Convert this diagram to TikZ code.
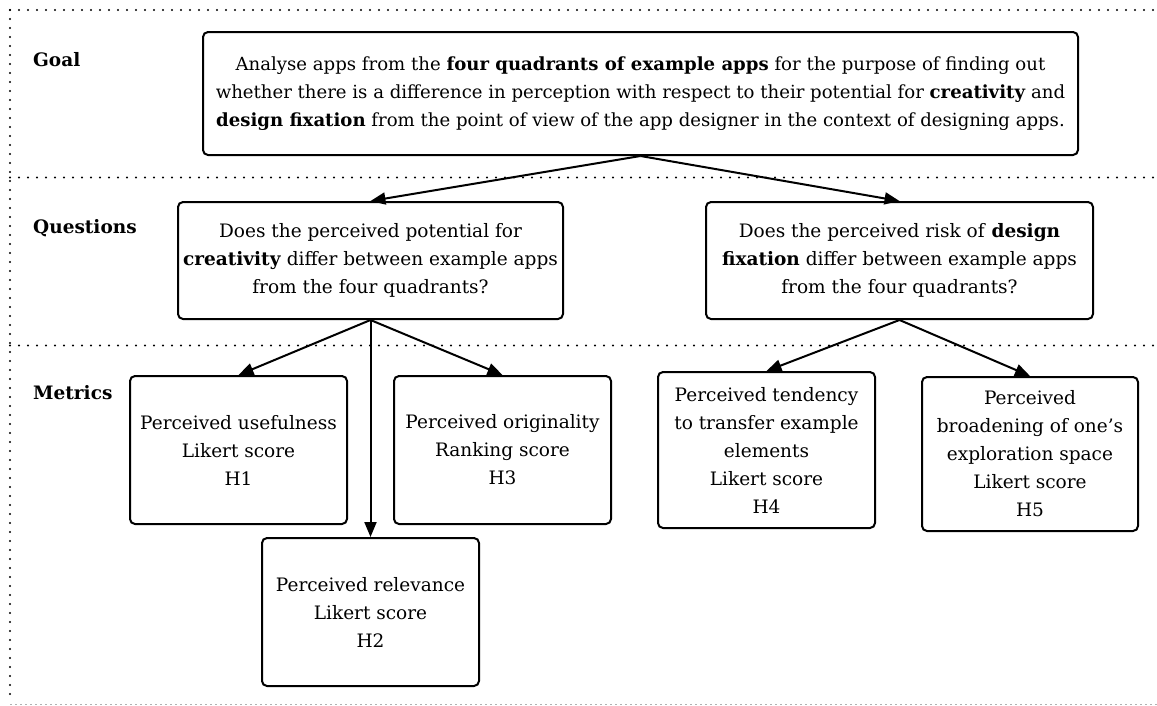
\documentclass[tikz,border=0pt]{standalone}
\usepackage{fontspec}
\setmainfont{DejaVu Serif}
\usetikzlibrary{arrows.meta}
\begin{document}
\begin{tikzpicture}[x=1pt,y=-1pt,
  box/.style={draw,line width=2pt,rounded corners=5pt,align=center,inner sep=0pt,
    font=\fontsize{18.5}{28}\selectfont},
  lbl/.style={anchor=west,inner sep=0pt,font=\fontsize{18.5}{28}\selectfont\bfseries},
  sep/.style={line width=2.2pt,line cap=round,dash pattern=on 0pt off 9pt},
  arr/.style={line width=2pt,-{Triangle[length=15pt,width=12pt]}}]
\useasboundingbox (0,0) rectangle (1157,705);
% section separators
\draw[sep] (10,10) -- (1157,10);
\draw[sep] (10,10) -- (10,700);
\draw[sep] (10,177.5) -- (1157,177.5);
\draw[sep] (10,345.5) -- (1157,345.5);
\draw[gray!60,line width=0.9pt,dash pattern=on 2pt off 3pt] (10,704) -- (1157,704);
% labels
\node[lbl] (lgoal) at (33,60) {Goal};
\node[lbl] (lq) at (33,228) {Questions};
\node[lbl] (lm) at (33,393) {Metrics};
% boxes
\node[box,minimum width=875pt,minimum height=123pt,font=\fontsize{18.1}{28}\selectfont] (goal) at (640.5,93.5)
 {Analyse apps from the \textbf{four quadrants of example apps} for the purpose of finding out\\
  whether there is a difference in perception with respect to their potential for \textbf{creativity} and\\
  \textbf{design fixation} from the point of view of the app designer in the context of designing apps.};
\node[box,minimum width=385pt,minimum height=117pt] (q1) at (370.5,260.5)
 {Does the perceived potential for\\ \textbf{creativity} differ between example apps\\ from the four quadrants?};
\node[box,minimum width=387pt,minimum height=117pt] (q2) at (899.5,260.5)
 {Does the perceived risk of \textbf{design}\\ \textbf{fixation} differ between example apps\\ from the four quadrants?};
\node[box,minimum width=217pt,minimum height=148pt] (m1) at (238.5,450)
 {Perceived usefulness\\ Likert score\\ H1};
\node[box,minimum width=217pt,minimum height=148pt] (m3) at (502.5,450)
 {Perceived originality\\ Ranking score\\ H3};
\node[box,minimum width=217pt,minimum height=148pt] (m2) at (370.5,612)
 {Perceived relevance\\ Likert score\\ H2};
\node[box,minimum width=217pt,minimum height=156pt] (m4) at (766.5,450)
 {Perceived tendency\\ to transfer example\\ elements\\ Likert score\\ H4};
\node[box,minimum width=216pt,minimum height=154pt] (m5) at (1030,454)
 {Perceived\\ broadening of one\char"0027 s\\ exploration space\\ Likert score\\ H5};
% connectors
\draw[arr] (goal.south) -- (q1.north);
\draw[arr] (goal.south) -- (q2.north);
\draw[arr] (q1.south) -- (m1.north);
\draw[arr] (q1.south) -- (m2.north);
\draw[arr] (q1.south) -- (m3.north);
\draw[arr] (q2.south) -- (m4.north);
\draw[arr] (q2.south) -- (m5.north);
\end{tikzpicture}
\end{document}
